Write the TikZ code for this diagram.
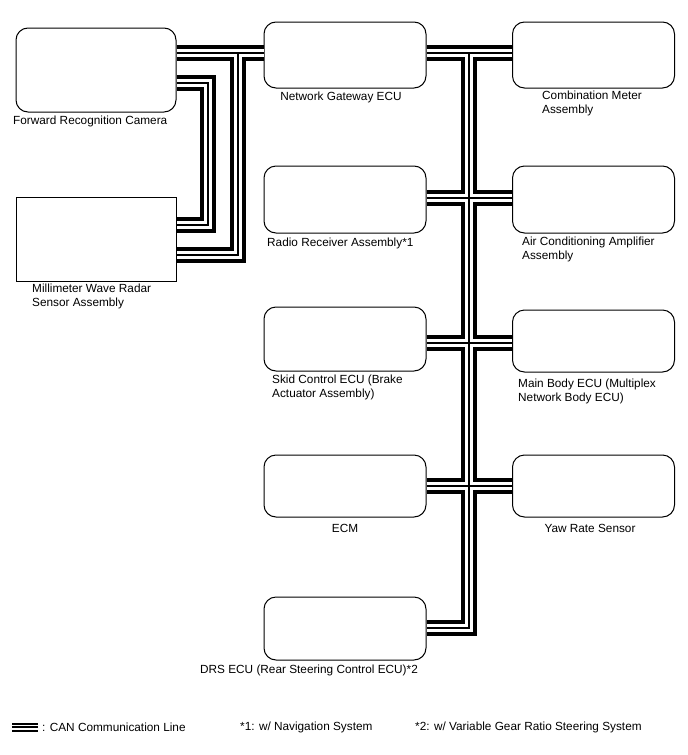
\documentclass[tikz,border=0pt]{standalone}
\usepackage{fontspec}
\setmainfont{Liberation Sans}
\usetikzlibrary{positioning}
\tikzset{
  ecu/.style={draw, rounded corners=12pt, line width=1pt, minimum width=162pt, minimum height=65pt, inner sep=0pt},
  sensor/.style={draw, line width=1pt, minimum width=160pt, minimum height=84pt, inner sep=0pt},
  lbl/.style={inner sep=0pt, align=left, font=\fontsize{11.8}{14}\selectfont},
  % label/.style={draw=none},
  canbus/.style={line width=15.5pt, postaction={draw=white, line width=7.5pt}, postaction={draw=black, line width=1.3pt}},
  canleg/.style={line width=9pt, postaction={draw=white, line width=5pt}, postaction={draw=black, line width=2pt}},
}

\begin{document}
\begin{tikzpicture}[x=1pt, y=-1pt]
\useasboundingbox (0,0) rectangle (688,755);

\node[ecu, minimum width=160pt, minimum height=84pt] (cam) at (96,70){};

\node[sensor] (mmw) at (96,239){};

\node[ecu, minimum height=66pt] (gw) at (345,55){};

\node[ecu, minimum height=66pt] (cm) at (593.5,55){};

\node[ecu, minimum height=67pt] (radio) at (345,199.5){};

\node[ecu, minimum height=67pt] (ac) at (593.5,199.5){};

\node[ecu, minimum height=64pt] (skid) at (345,339){};

\node[ecu, minimum height=62pt] (body) at (593.5,341){};

\node[ecu, minimum height=62pt] (ecm) at (345,486){};

\node[ecu, minimum height=62pt] (yaw) at (593.5,486){};

\node[ecu, minimum height=63pt] (drs) at (345,628.5){};

% labels
\node[lbl, anchor=west] (camtxt) at (13,121) {Forward Recognition Camera};
\node[lbl, anchor=north west] (mmwtxt) at (32,284) {Millimeter Wave Radar\\Sensor Assembly};
\node[lbl] (gwtxt) at (341,97) {Network Gateway ECU};
\node[lbl, anchor=north west] (cmtxt) at (542,91) {Combination Meter\\Assembly};
\node[lbl, anchor=west] (radiotxt) at (267,243) {Radio Receiver Assembly*1};
\node[lbl, anchor=north west] (actxt) at (522,237) {Air Conditioning Amplifier\\Assembly};
\node[lbl, anchor=north west] (skidtxt) at (272,375) {Skid Control ECU (Brake\\Actuator Assembly)};
\node[lbl, anchor=north west] (bodytxt) at (518,379) {Main Body ECU (Multiplex\\Network Body ECU)};
\node[lbl] (ecmtxt) at (345,528) {ECM};
\node[lbl] (yawtxt) at (590,528) {Yaw Rate Sensor};
\node[lbl] (drstxt) at (309,670) {DRS ECU (Rear Steering Control ECU)*2};

% bus points
\coordinate (b1) at (238,53);
\coordinate (b2) at (208,83);
\coordinate (r1) at (0,255);
\coordinate (r2) at (0,225);
\coordinate (t0) at (469,53);
\coordinate (t1) at (469,198);
\coordinate (t2) at (469,343);
\coordinate (t3) at (469,486);
\coordinate (t4) at (469,628);

\draw[canbus] (cam.east |- b1) -- (gw.west |- b1)
  (b1) |- (mmw.east |- r1)
  (cam.east |- b2) -- (b2) |- (mmw.east |- r2)
  (gw.east |- t0) -- (cm.west |- t0)
  (t0) -- (t4) -- (drs.east |- t4)
  (radio.east |- t1) -- (ac.west |- t1)
  (skid.east |- t2) -- (body.west |- t2)
  (ecm.east |- t3) -- (yaw.west |- t3);

% legend
\coordinate (lg1) at (12,727);
\coordinate (lg2) at (38,727);
\draw[canleg] (lg1) -- (lg2);
\node[lbl, anchor=west] (legtxt) at (42,727) {: CAN Communication Line};
\node[lbl, anchor=west] (note1) at (240,727) {*1: w/ Navigation System};
\node[lbl, anchor=west] (note2) at (415,727) {*2: w/ Variable Gear Ratio Steering System};

\end{tikzpicture}
\end{document}
